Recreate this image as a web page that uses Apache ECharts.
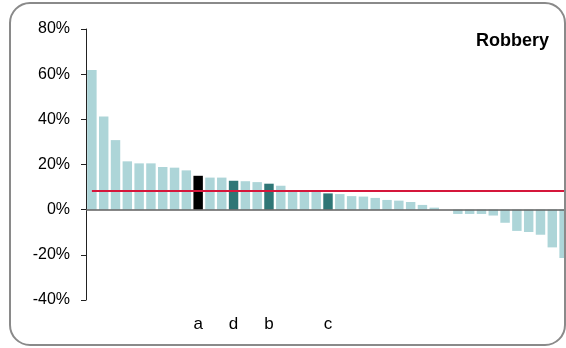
<!DOCTYPE html>
<html>
<head>
<meta charset="utf-8">
<script src="https://cdn.jsdelivr.net/npm/echarts@6/dist/echarts.min.js"></script>
<style>
html,body{margin:0;padding:0;background:#fff;overflow:hidden;}
#chart{width:566px;height:348px;}
</style>
</head>
<body>
<div id="chart"></div>
<script>
// Category labels (only the highlighted areas are named)
const categories = ['', '', '', '', '', '', '', '', '', 'a', '', '', 'd', '', '', 'b', '', '', '', '', 'c',
  '', '', '', '', '', '', '', '', '', '', '', '', '', '', '', '', '', '', '', ''];
// Percentage change values, sorted descending
const values = [61.8, 41.2, 30.8, 21.4, 20.5, 20.5, 18.9, 18.6, 17.4, 15.0, 14.2, 14.2, 12.8, 12.6, 12.2,
  11.5, 10.6, 8.2, 8.2, 8.2, 7.2, 6.9, 6.0, 5.8, 5.2, 4.3, 4.0, 3.4, 2.1, 0.9, 0.0, -1.9, -1.9, -1.9,
  -2.6, -5.8, -9.4, -9.9, -11.1, -16.7, -21.4];
// Highlight kind per named category
const highlightA = ['a'];
const highlightOthers = ['d', 'b', 'c'];
const referenceValue = 8.5;
const yTicks = [-40, -20, 0, 20, 40, 60, 80];
const chartTitle = 'Robbery';

const COLOR_BASE = '#add5d8';
const COLOR_TEAL = '#2f7676';
const COLOR_BLACK = '#000000';
const FONT = "'Liberation Sans', Arial, sans-serif";

const barData = values.map((v, i) => {
  const c = categories[i];
  let color = COLOR_BASE;
  if (highlightA.includes(c)) color = COLOR_BLACK;
  else if (highlightOthers.includes(c)) color = COLOR_TEAL;
  return { value: v, itemStyle: { color: color } };
});

const chart = echarts.init(document.getElementById('chart'), null, { renderer: 'canvas' });
chart.setOption({
  animation: false,
  backgroundColor: '#ffffff',
  grid: { left: 86, width: 484, top: 29, bottom: 48, containLabel: false, outerBoundsMode: 'none' },
  xAxis: {
    type: 'category',
    data: categories,
    axisLine: { show: false, onZero: false },
    axisTick: { show: false },
    axisLabel: { interval: 0, margin: 16, fontSize: 17, color: '#000', fontFamily: FONT },
    splitLine: { show: false }
  },
  yAxis: {
    type: 'value',
    min: yTicks[0],
    max: yTicks[yTicks.length - 1],
    interval: 20,
    axisLine: { show: true, lineStyle: { color: '#222', width: 1 } },
    axisTick: { show: true, length: 5, lineStyle: { color: '#222', width: 1 } },
    axisLabel: { formatter: '{value}%', fontSize: 16, color: '#000', margin: 16, fontFamily: FONT },
    splitLine: { show: false }
  },
  series: [
    {
      type: 'bar',
      data: barData,
      barCategoryGap: '20%',
      markLine: {
        silent: true,
        symbol: ['none', 'none'],
        label: { show: false },
        animation: false,
        data: [
          [{ coord: [0, 0], x: 86, lineStyle: { color: '#5f5f5f', width: 1.5, type: 'solid' } }, { coord: [categories.length - 1, 0], x: 566 }],
          [{ coord: [0, referenceValue], lineStyle: { color: '#d5163b', width: 2, type: 'solid' } }, { coord: [categories.length - 1, referenceValue] }]
        ]
      }
    }
  ],
  graphic: [
    {
      type: 'rect',
      silent: true,
      z: 100,
      shape: { x: 10, y: 3, width: 555, height: 342, r: 20 },
      style: { fill: 'none', stroke: '#8a8a8a', lineWidth: 2 }
    },
    {
      type: 'text',
      silent: true,
      right: 17,
      top: 32,
      style: { text: chartTitle, font: "bold 18px 'Liberation Sans', Arial, sans-serif", fill: '#000' }
    }
  ]
});
</script>
</body>
</html>
